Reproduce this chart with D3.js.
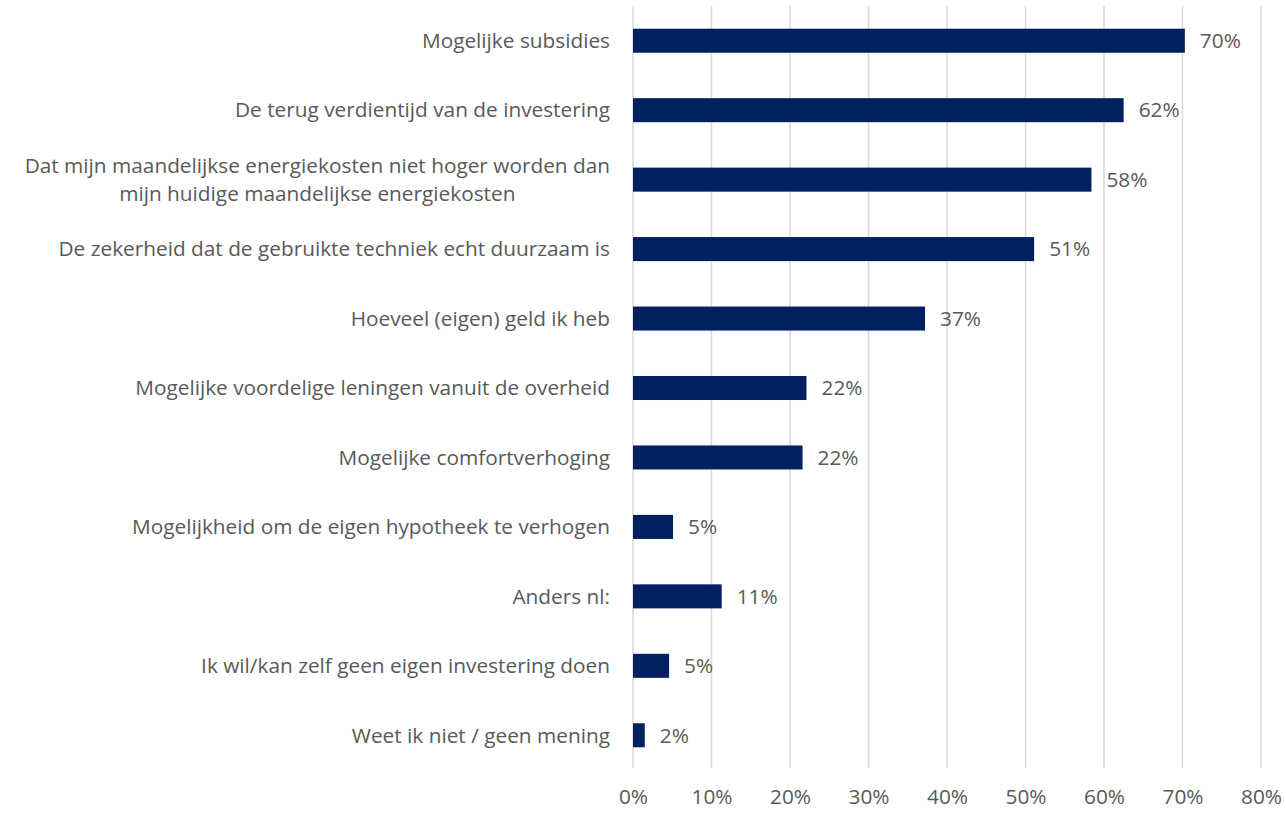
<!DOCTYPE html>
<html>
<head>
<meta charset="utf-8">
<script src="https://cdn.jsdelivr.net/npm/d3@7"></script>
<style>
  body { margin: 0; background: #fff; }
  svg text { font-family: "Open Sans", "Noto Sans", sans-serif; fill: #595959; }
</style>
</head>
<body>
<div id="chart"></div>
<script>
// categories, top to bottom (multi-line labels split with "\n")
var categories = [
    "Mogelijke subsidies",
    "De terug verdientijd van de investering",
    "Dat mijn maandelijkse energiekosten niet hoger worden dan\nmijn huidige maandelijkse energiekosten",
    "De zekerheid dat de gebruikte techniek echt duurzaam is",
    "Hoeveel (eigen) geld ik heb",
    "Mogelijke voordelige leningen vanuit de overheid",
    "Mogelijke comfortverhoging",
    "Mogelijkheid om de eigen hypotheek te verhogen",
    "Anders nl:",
    "Ik wil/kan zelf geen eigen investering doen",
    "Weet ik niet / geen mening"
];
var values = [70.3, 62.5, 58.4, 51.1, 37.2, 22.1, 21.6, 5.1, 11.3, 4.6, 1.5];
var valueLabels = ["70%", "62%", "58%", "51%", "37%", "22%", "22%", "5%", "11%", "5%", "2%"];
var ticks = [0, 10, 20, 30, 40, 50, 60, 70, 80];

var width = 1286, height = 813;
var plotLeft = 633, plotRight = 1261, plotTop = 6, plotBottom = 770;
var fontSize = "20.8px";

var svg = d3.select("#chart").append("svg")
    .attr("width", width)
    .attr("height", height);

var x = d3.scaleLinear().domain([0, 80]).range([plotLeft, plotRight]);
var y = d3.scaleBand().domain(categories).range([plotTop, plotBottom])
    .paddingInner(0.654).paddingOuter(0.327);

// gridlines
svg.append("g").selectAll("line")
    .data(ticks)
    .enter().append("line")
    .attr("x1", function(d) { return x(d); })
    .attr("x2", function(d) { return x(d); })
    .attr("y1", plotTop)
    .attr("y2", plotBottom - 2)
    .attr("stroke", "#d9d9d9")
    .attr("stroke-width", 1.5);

// x axis labels
var xAxis = d3.axisBottom(x).tickValues(ticks)
    .tickFormat(function(d) { return d + "%"; })
    .tickSize(0).tickPadding(0);
var gx = svg.append("g")
    .attr("transform", "translate(0," + (plotBottom + 19) + ")")
    .call(xAxis);
gx.select(".domain").remove();
gx.selectAll("text")
    .attr("font-size", fontSize)
    .attr("fill", "#595959")
    .attr("font-family", "\"Open Sans\", sans-serif")
    .attr("dy", "0.71em");

// bars
svg.append("g").selectAll("rect")
    .data(values)
    .enter().append("rect")
    .attr("x", x(0))
    .attr("y", function(d, i) { return y(categories[i]); })
    .attr("width", function(d) { return x(d) - x(0); })
    .attr("height", y.bandwidth())
    .attr("fill", "#002060");

// value labels
svg.append("g").selectAll("text")
    .data(values)
    .enter().append("text")
    .attr("x", function(d) { return x(d) + 15; })
    .attr("y", function(d, i) { return y(categories[i]) + y.bandwidth() / 2; })
    .attr("dy", "0.35em")
    .attr("font-size", fontSize)
    .text(function(d, i) { return valueLabels[i]; });

// category labels
svg.append("g").selectAll("text")
    .data(categories)
    .enter().append("text")
    .attr("font-size", fontSize)
    .each(function(d) {
        var lines = d.split("\n");
        var t = d3.select(this);
        var cy = y(d) + y.bandwidth() / 2;
        if (lines.length === 1) {
            t.attr("x", 610).attr("y", cy).attr("dy", "0.35em")
                .attr("text-anchor", "end").text(d);
        } else {
            var lh = 28;
            var first = t.append("tspan").attr("x", 610)
                .attr("y", cy - lh / 2).attr("dy", "0.35em")
                .attr("text-anchor", "end").text(lines[0]);
            var w = first.node().getComputedTextLength();
            t.append("tspan").attr("x", 610 - w / 2)
                .attr("y", cy + lh / 2).attr("dy", "0.35em")
                .attr("text-anchor", "middle").text(lines[1]);
        }
    });
</script>
</body>
</html>
